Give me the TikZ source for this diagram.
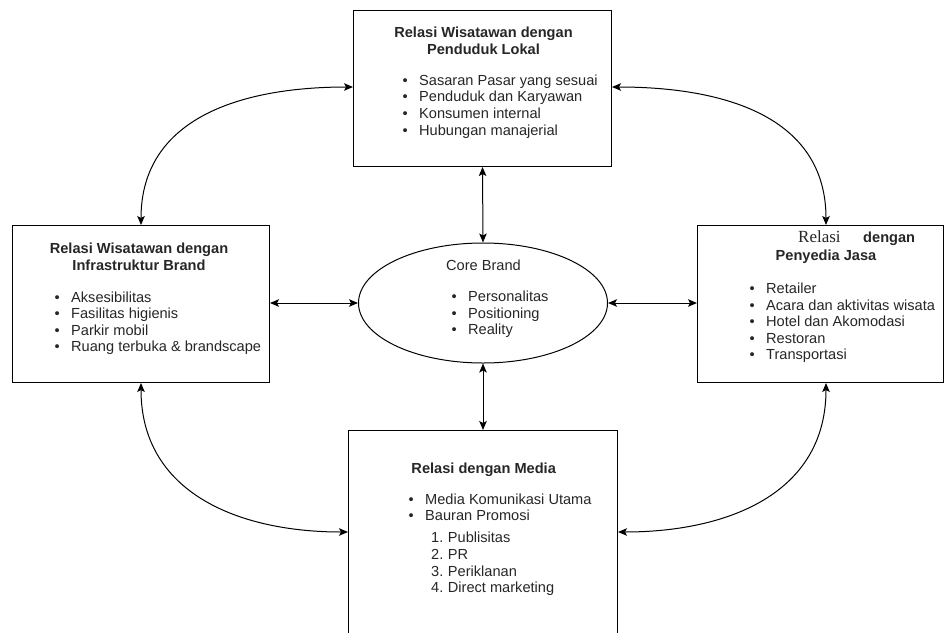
\documentclass[tikz,border=0pt]{standalone}
\usepackage{fontspec}
\setmainfont{Liberation Sans}
\newfontfamily\serifrelasi{Liberation Serif}
\usetikzlibrary{positioning,arrows.meta,shapes.geometric}

\tikzset{
  kotak/.style={draw,line width=1pt,rectangle,anchor=north west,inner sep=0pt},
  judul/.style={font=\bfseries\fontsize{14.6}{17}\selectfont,text=black!85,anchor=base,inner sep=0pt},
  isi/.style={font=\fontsize{14.6}{17}\selectfont,text=black!85,anchor=base west,inner sep=0pt},
  panah/.style={{Stealth[length=9pt,width=7.5pt,inset=2pt]}-{Stealth[length=9pt,width=7.5pt,inset=2pt]},line width=1pt},
}
\newcommand{\poin}{\llap{\textbullet\hspace{11.5pt}}}
\newcommand{\nomor}[1]{\llap{#1.\hspace{4.5pt}}}

\begin{document}
\begin{tikzpicture}[x=1pt,y=1pt]
\useasboundingbox (0,0) rectangle (944,-632);

% les boites
\node[kotak,minimum width=258pt,minimum height=156pt] (lokal) at (353,-10) {};
\node[kotak,minimum width=257pt,minimum height=157pt] (infra) at (12,-225) {};
\node[kotak,minimum width=246pt,minimum height=157pt] (jasa) at (697,-225) {};
\node[kotak,minimum width=269pt,minimum height=230pt] (media) at (348,-430) {};
\node[draw,line width=1pt,ellipse,inner sep=0pt,minimum width=249pt,minimum height=120pt] (core) at (483,-303) {};

% Penduduk Lokal
\node[judul] (lokalA) at (483.5,-37) {Relasi Wisatawan dengan};
\node[judul] (lokalB) at (483.5,-54) {Penduduk Lokal};
\node[isi] (lokal1) at (419,-85) {\poin Sasaran Pasar yang sesuai};
\node[isi] (lokal2) at (419,-101.7) {\poin Penduduk dan Karyawan};
\node[isi] (lokal3) at (419,-118.4) {\poin Konsumen internal};
\node[isi] (lokal4) at (419,-135) {\poin Hubungan manajerial};

% Infrastruktur Brand
\node[judul] (infraA) at (139,-253.3) {Relasi Wisatawan dengan};
\node[judul] (infraB) at (139,-270) {Infrastruktur Brand};
\node[isi] (infra1) at (71,-302) {\poin Aksesibilitas};
\node[isi] (infra2) at (71,-318.5) {\poin Fasilitas higienis};
\node[isi] (infra3) at (71,-335) {\poin Parkir mobil};
\node[isi] (infra4) at (71,-351.5) {\poin Ruang terbuka \& brandscape};

% Penyedia Jasa
\node[isi,font=\serifrelasi\fontsize{17}{20}\selectfont] (jasaA) at (798,-242) {Relasi};
\node[judul,anchor=base west] (jasaB) at (863,-242) {dengan};
\node[judul] (jasaC) at (826,-260) {Penyedia Jasa};
\node[isi] (jasa1) at (766,-293.5) {\poin Retailer};
\node[isi] (jasa2) at (766,-310) {\poin Acara dan aktivitas wisata};
\node[isi] (jasa3) at (766,-326.5) {\poin Hotel dan Akomodasi};
\node[isi] (jasa4) at (766,-343) {\poin Restoran};
\node[isi] (jasa5) at (766,-359.5) {\poin Transportasi};

% Core Brand
\node[judul,font=\fontsize{14.6}{17}\selectfont] (coreA) at (483.5,-270) {Core Brand};
\node[isi] (core1) at (468,-301) {\poin Personalitas};
\node[isi] (core2) at (468,-318) {\poin Positioning};
\node[isi] (core3) at (468,-334.5) {\poin Reality};

% Media
\node[judul] (mediaA) at (483.7,-473) {Relasi dengan Media};
\node[isi] (media1) at (425,-504) {\poin Media Komunikasi Utama};
\node[isi] (media2) at (425,-520.7) {\poin Bauran Promosi};
\node[isi] (media3) at (447.7,-542.7) {\nomor{1}Publisitas};
\node[isi] (media4) at (447.7,-559.3) {\nomor{2}PR};
\node[isi] (media5) at (447.7,-576) {\nomor{3}Periklanan};
\node[isi] (media6) at (447.7,-592.7) {\nomor{4}Direct marketing};

% titik ujung panah lengkung
\coordinate (lokalW) at ([yshift=-77pt]lokal.north west);
\coordinate (lokalE) at ([yshift=-77pt]lokal.north east);
\coordinate (jasaN) at ([xshift=129pt]jasa.north west);
\coordinate (jasaS) at ([xshift=129pt]jasa.south west);
\coordinate (mediaW) at ([yshift=-102pt]media.north west);
\coordinate (mediaE) at ([yshift=-102pt]media.north east);

% les fleches
\draw[panah] (lokal.south) -- (core.north);
\draw[panah] (core.south) -- (media.north);
\draw[panah] (infra.east |- core.west) -- (core.west);
\draw[panah] (core.east) -- (jasa.west |- core.east);
\draw[panah] (lokalW) to[out=180,in=90,looseness=1.1] (infra.north);
\draw[panah] (lokalE) to[out=0,in=90,looseness=1.1] (jasaN);
\draw[panah] (infra.south) to[out=-90,in=180,looseness=1.1] (mediaW);
\draw[panah] (jasaS) to[out=-90,in=0,looseness=1.1] (mediaE);
\end{tikzpicture}
\end{document}
